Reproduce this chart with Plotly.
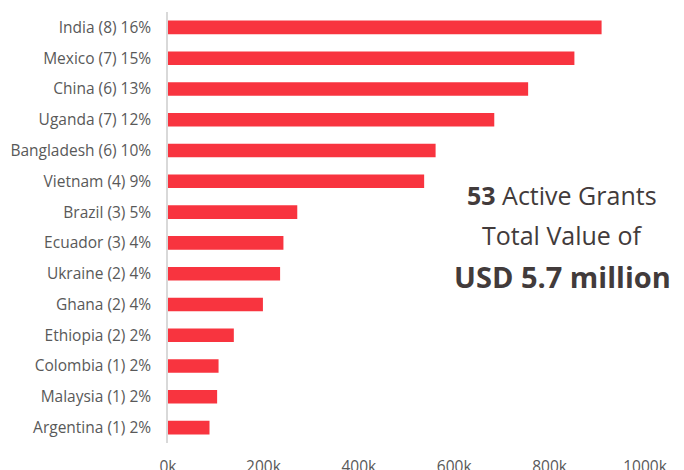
import plotly.graph_objects as go

countries = ["India (8) 16%", "Mexico (7) 15%", "China (6) 13%", "Uganda (7) 12%",
             "Bangladesh (6) 10%", "Vietnam (4) 9%", "Brazil (3) 5%", "Ecuador (3) 4%",
             "Ukraine (2) 4%", "Ghana (2) 4%", "Ethiopia (2) 2%", "Colombia (1) 2%",
             "Malaysia (1) 2%", "Argentina (1) 2%"]
values_k = [909, 852, 755, 684, 561, 537, 271, 242, 235, 199, 138, 106, 103, 87]
tick_vals_k = [0, 200, 400, 600, 800, 1000]
tick_text = ["0k", "200k", "400k", "600k", "800k", "1000k"]

TEXT = "#595959"
DARK = "#423b3b"

fig = go.Figure(go.Bar(
    x=values_k[::-1], y=countries[::-1], orientation="h",
    marker=dict(color="#F8343F", line=dict(width=0)),
    hoverinfo="x+y",
))

fig.update_layout(
    width=676, height=462,
    margin=dict(l=159.5, r=38.5, t=4, b=27, autoexpand=False),
    paper_bgcolor="white", plot_bgcolor="white",
    bargap=0.56,
    showlegend=False,
    font=dict(family="Open Sans", size=15.5, color=TEXT),
    xaxis=dict(range=[0, 1000], tickvals=tick_vals_k, ticktext=tick_text,
               showgrid=False, zeroline=False, showline=False, automargin=False,
               ticks="outside", ticklen=9, tickcolor="rgba(0,0,0,0)",
               tickfont=dict(size=15.5, color=TEXT), fixedrange=True),
    yaxis=dict(showgrid=False, zeroline=False, showline=True, automargin=False,
               linecolor="#d9d9d9", linewidth=1.5,
               ticks="outside", ticklen=12, tickcolor="rgba(0,0,0,0)",
               tickfont=dict(size=15.5, color=TEXT), fixedrange=True),
    annotations=[
        dict(xref="paper", yref="paper", x=0.827, y=0.575, showarrow=False,
             xanchor="center", yanchor="middle",
             text="<b>53</b> Active Grants", font=dict(family="Open Sans", size=25, color=DARK)),
        dict(xref="paper", yref="paper", x=0.827, y=0.483, showarrow=False,
             xanchor="center", yanchor="middle",
             text="Total Value of", font=dict(family="Open Sans", size=25, color=DARK)),
        dict(xref="paper", yref="paper", x=0.827, y=0.387, showarrow=False,
             xanchor="center", yanchor="middle",
             text="<b>USD 5.7 million</b>", font=dict(family="Open Sans", size=29, color=DARK)),
    ],
)

fig.write_html("out.html")
